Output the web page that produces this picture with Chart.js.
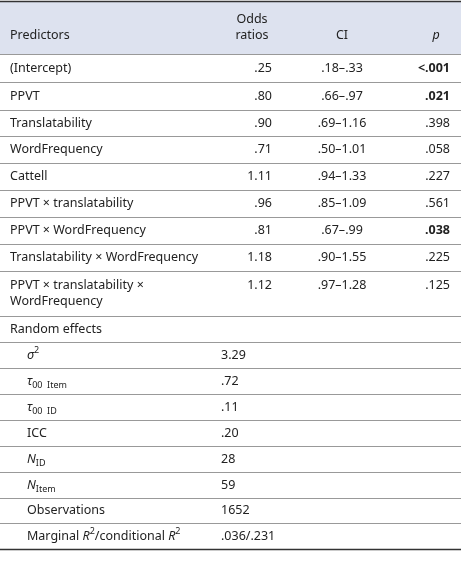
<!DOCTYPE html>
<html><head><meta charset="utf-8">
<script src="https://cdn.jsdelivr.net/npm/chart.js@4"></script>
<style>html,body{margin:0;padding:0;background:#fff}#w{width:461px;height:561px}</style>
</head><body><div id="w"><canvas id="c"></canvas></div>
<script>
const predictors = ["(Intercept)","PPVT","Translatability","WordFrequency","Cattell","PPVT × translatability","PPVT × WordFrequency","Translatability × WordFrequency","PPVT × translatability ×|WordFrequency"];
const oddsRatios = [".25",".80",".90",".71","1.11",".96",".81","1.18","1.12"];
const ciValues = [".18–.33",".66–.97",".69–1.16",".50–1.01",".94–1.33",".85–1.09",".67–.99",".90–1.55",".97–1.28"];
const pValues = ["<.001",".021",".398",".058",".227",".561",".038",".225",".125"];
const pBold = [true,true,false,false,false,false,true,false,false];
const randomLabels = [[["σ","i"],["2","sup"]],[["τ","i"],["00  Item","sub"]],[["τ","i"],["00  ID","sub"]],[["ICC","n"]],[["N","i"],["ID","sub"]],[["N","i"],["Item","sub"]],[["Observations","n"]],[["Marginal ","n"],["R","i"],["2","sup"],["/conditional ","n"],["R","i"],["2","sup"]]];
const randomValues = ["3.29",".72",".11",".20","28","59","1652",".036/.231"];
const rowEdges = [1,54,82,110,136,163,190,217,244,271,316,342,368,394,420,446,472,498,523,549];

const F = '"Noto Sans", "Open Sans", sans-serif';
function rich(ctx, segs, x, y, align){
  const fs = 12.5;
  const font = s => (s==="b"?"bold ":"")+(s==="i"?"italic ":"")+((s==="sub"||s==="sup")?9:fs)+"px "+F;
  let w=0; segs.forEach(([t,s])=>{ctx.font=font(s); w+=ctx.measureText(t).width;});
  let cx = align==="right"? x-w : align==="center"? x-w/2 : x;
  ctx.textAlign="left"; ctx.textBaseline="middle";
  segs.forEach(([t,s])=>{ctx.font=font(s); const dy = s==="sub"?4:s==="sup"?-5:0; ctx.fillText(t,cx,y+dy); cx+=ctx.measureText(t).width;});
}
const tablePlugin = {id:"table", afterDraw(chart){
  const ctx=chart.ctx, ys=chart.scales.y, xs=chart.scales.x;
  const Y=v=>ys.getPixelForValue(v), X=v=>xs.getPixelForValue(v);
  ctx.save();
  ctx.fillStyle="#dde2ef"; ctx.fillRect(X(0),Y(rowEdges[0]),X(461)-X(0),Y(rowEdges[1])-Y(rowEdges[0]));
  for(let i=0;i<rowEdges.length;i++){
    const last = i===0||i===rowEdges.length-1;
    ctx.strokeStyle = last? "#333" : "#999"; ctx.lineWidth = last?1.5:1;
    ctx.beginPath(); ctx.moveTo(X(0),Y(rowEdges[i])+0.5); ctx.lineTo(X(461),Y(rowEdges[i])+0.5); ctx.stroke();
  }
  ctx.fillStyle="#222";
  const mid=i=>(Y(rowEdges[i])+Y(rowEdges[i+1]))/2;
  const hy=mid(0);
  rich(ctx,[["Predictors","n"]],X(10),hy+8,"left");
  rich(ctx,[["Odds","n"]],X(252),hy-8,"center");
  rich(ctx,[["ratios","n"]],X(252),hy+8,"center");
  rich(ctx,[["CI","n"]],X(342),hy+8,"center");
  rich(ctx,[["p","i"]],X(436),hy+8,"center");
  predictors.forEach((p,i)=>{
    const y=mid(i+1); const lines=p.split("|");
    const ty = lines.length>1? y-8 : y;
    lines.forEach((l,k)=>rich(ctx,[[l,"n"]],X(10),ty+k*16,"left"));
    rich(ctx,[[oddsRatios[i],"n"]],X(272),ty,"right");
    rich(ctx,[[ciValues[i],"n"]],X(342),ty,"center");
    rich(ctx,[[pValues[i],pBold[i]?"b":"n"]],X(450),ty,"right");
  });
  rich(ctx,[["Random effects","n"]],X(10),mid(10),"left");
  randomLabels.forEach((segs,i)=>{
    const y=mid(11+i);
    rich(ctx,segs,X(27),y,"left");
    rich(ctx,[[randomValues[i],"n"]],X(221),y,"left");
  });
  ctx.restore();
}};
new Chart(document.getElementById("c"),{type:"scatter",data:{datasets:[{data:[]}]},
 options:{responsive:true,maintainAspectRatio:false,animation:false,layout:{padding:0},
  plugins:{legend:{display:false},tooltip:{enabled:false}},
  scales:{x:{type:"linear",min:0,max:461,display:false},y:{type:"linear",min:0,max:561,reverse:true,display:false}}},
 plugins:[tablePlugin]});
</script></body></html>
